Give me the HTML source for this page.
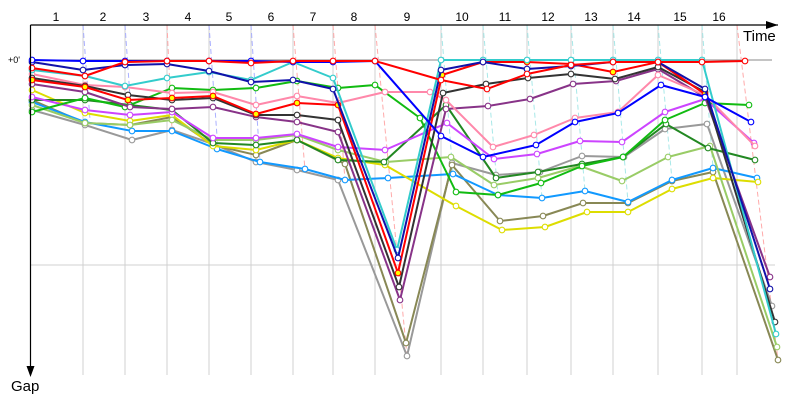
<!DOCTYPE html>
<html><head><meta charset="utf-8"><style>
html,body{margin:0;padding:0;background:#fff;}
svg{display:block;font-family:"Liberation Sans","DejaVu Sans",sans-serif;}
</style></head><body>
<svg width="800" height="400" viewBox="0 0 800 400" xmlns="http://www.w3.org/2000/svg">
<defs>
<marker id="mR" viewBox="0 0 10 10" refX="5" refY="5" markerWidth="7" markerHeight="7" markerUnits="userSpaceOnUse"><circle cx="5" cy="5" r="4" fill="#fff" stroke="#f00" stroke-width="1.6"/></marker>
<marker id="mRY" viewBox="0 0 10 10" refX="5" refY="5" markerWidth="7" markerHeight="7" markerUnits="userSpaceOnUse"><circle cx="5" cy="5" r="4" fill="#ff0" stroke="#f00" stroke-width="1.6"/></marker>
<marker id="mB" viewBox="0 0 10 10" refX="5" refY="5" markerWidth="7" markerHeight="7" markerUnits="userSpaceOnUse"><circle cx="5" cy="5" r="4" fill="#fff" stroke="#00f" stroke-width="1.6"/></marker>
<marker id="mN" viewBox="0 0 10 10" refX="5" refY="5" markerWidth="7" markerHeight="7" markerUnits="userSpaceOnUse"><circle cx="5" cy="5" r="4" fill="#fff" stroke="#11a" stroke-width="1.6"/></marker>
<marker id="mC" viewBox="0 0 10 10" refX="5" refY="5" markerWidth="7" markerHeight="7" markerUnits="userSpaceOnUse"><circle cx="5" cy="5" r="4" fill="#fff" stroke="#3cc" stroke-width="1.6"/></marker>
<marker id="mK" viewBox="0 0 10 10" refX="5" refY="5" markerWidth="7" markerHeight="7" markerUnits="userSpaceOnUse"><circle cx="5" cy="5" r="4" fill="#fff" stroke="#333" stroke-width="1.6"/></marker>
<marker id="mP" viewBox="0 0 10 10" refX="5" refY="5" markerWidth="7" markerHeight="7" markerUnits="userSpaceOnUse"><circle cx="5" cy="5" r="4" fill="#fff" stroke="#f8a" stroke-width="1.6"/></marker>
<marker id="mG" viewBox="0 0 10 10" refX="5" refY="5" markerWidth="7" markerHeight="7" markerUnits="userSpaceOnUse"><circle cx="5" cy="5" r="4" fill="#fff" stroke="#1b1" stroke-width="1.6"/></marker>
<marker id="mPu" viewBox="0 0 10 10" refX="5" refY="5" markerWidth="7" markerHeight="7" markerUnits="userSpaceOnUse"><circle cx="5" cy="5" r="4" fill="#fff" stroke="#838" stroke-width="1.6"/></marker>
<marker id="mM" viewBox="0 0 10 10" refX="5" refY="5" markerWidth="7" markerHeight="7" markerUnits="userSpaceOnUse"><circle cx="5" cy="5" r="4" fill="#fff" stroke="#c4f" stroke-width="1.6"/></marker>
<marker id="mDG" viewBox="0 0 10 10" refX="5" refY="5" markerWidth="7" markerHeight="7" markerUnits="userSpaceOnUse"><circle cx="5" cy="5" r="4" fill="#fff" stroke="#282" stroke-width="1.6"/></marker>
<marker id="mLG" viewBox="0 0 10 10" refX="5" refY="5" markerWidth="7" markerHeight="7" markerUnits="userSpaceOnUse"><circle cx="5" cy="5" r="4" fill="#fff" stroke="#9c6" stroke-width="1.6"/></marker>
<marker id="mY" viewBox="0 0 10 10" refX="5" refY="5" markerWidth="7" markerHeight="7" markerUnits="userSpaceOnUse"><circle cx="5" cy="5" r="4" fill="#fff" stroke="#dd0" stroke-width="1.6"/></marker>
<marker id="mO" viewBox="0 0 10 10" refX="5" refY="5" markerWidth="7" markerHeight="7" markerUnits="userSpaceOnUse"><circle cx="5" cy="5" r="4" fill="#fff" stroke="#885" stroke-width="1.6"/></marker>
<marker id="mGr" viewBox="0 0 10 10" refX="5" refY="5" markerWidth="7" markerHeight="7" markerUnits="userSpaceOnUse"><circle cx="5" cy="5" r="4" fill="#fff" stroke="#999" stroke-width="1.6"/></marker>
<marker id="mLB" viewBox="0 0 10 10" refX="5" refY="5" markerWidth="7" markerHeight="7" markerUnits="userSpaceOnUse"><circle cx="5" cy="5" r="4" fill="#fff" stroke="#19f" stroke-width="1.6"/></marker>
<marker id="arR" viewBox="0 0 12 8" refX="12" refY="4" markerWidth="12" markerHeight="8" markerUnits="userSpaceOnUse" orient="auto"><path d="M0,0 L12,4 L0,8 Z" fill="#000"/></marker>
</defs>

<!-- grid -->
<g stroke="#d0d0d0" stroke-width="1">
<line x1="83" y1="25" x2="83" y2="375"/><line x1="125" y1="25" x2="125" y2="375"/>
<line x1="167" y1="25" x2="167" y2="375"/><line x1="209" y1="25" x2="209" y2="375"/>
<line x1="251" y1="25" x2="251" y2="375"/><line x1="293" y1="25" x2="293" y2="375"/>
<line x1="333" y1="25" x2="333" y2="375"/><line x1="375" y1="25" x2="375" y2="375"/>
<line x1="441" y1="25" x2="441" y2="375"/><line x1="483" y1="25" x2="483" y2="375"/>
<line x1="527" y1="25" x2="527" y2="375"/><line x1="571" y1="25" x2="571" y2="375"/>
<line x1="613" y1="25" x2="613" y2="375"/><line x1="658" y1="25" x2="658" y2="375"/>
<line x1="702" y1="25" x2="702" y2="375"/><line x1="737" y1="25" x2="737" y2="375"/>
<line x1="31" y1="265" x2="775" y2="265"/>
</g>
<line x1="31" y1="60" x2="772" y2="60" stroke="#888" stroke-width="1"/>

<!-- dashed guides -->
<g fill="none" stroke-width="1" stroke-dasharray="5,3">
<g stroke="#aab0ff"><line x1="83" y1="25" x2="90" y2="120"/><line x1="125" y1="25" x2="133" y2="140"/><line x1="209" y1="25" x2="218" y2="150"/><line x1="251" y1="25" x2="260" y2="162"/></g>
<g stroke="#ffaaaa"><line x1="167" y1="25" x2="172" y2="130"/><line x1="293" y1="25" x2="305" y2="170"/><line x1="333" y1="25" x2="345" y2="180"/><line x1="375" y1="25" x2="407" y2="356"/><line x1="737" y1="25" x2="778" y2="360"/></g>
<g stroke="#a8e8e8"><line x1="441" y1="25" x2="453" y2="174"/><line x1="483" y1="25" x2="498" y2="195"/><line x1="527" y1="25" x2="542" y2="198"/><line x1="571" y1="25" x2="585" y2="191"/><line x1="613" y1="25" x2="628" y2="202"/><line x1="658" y1="25" x2="672" y2="180"/><line x1="702" y1="25" x2="713" y2="168"/></g>
</g>

<!-- series -->
<g fill="none" stroke-width="2" stroke-linejoin="round">
<polyline stroke="#999" marker-start="url(#mGr)" marker-mid="url(#mGr)" marker-end="url(#mGr)" points="32,110 85,125 132,140 172,130 213,144 256,162 297,170 338,180 407,356 452,163 496,175 540,172 582,156 624,157 665,129 707,124 772,306"/>
<polyline stroke="#885" marker-start="url(#mO)" marker-mid="url(#mO)" marker-end="url(#mO)" points="32,100 85,123 130,125 172,117 213,145 256,155 297,140 345,164 406,343 452,165 500,221 543,216 583,203 628,203 672,181 713,172 778,360"/>
<polyline stroke="#19f" marker-start="url(#mLB)" marker-mid="url(#mLB)" marker-end="url(#mLB)" points="32,102 85,122 132,131 172,131 217,149 260,162 305,169 345,180 388,178 453,174 498,195 542,198 585,191 628,202 672,180 713,168 757,178"/>
<polyline stroke="#dd0" marker-start="url(#mY)" marker-mid="url(#mY)" marker-end="url(#mY)" points="32,90 85,113 130,121 172,115 213,146 256,150 297,140 338,158 385,165 456,206 502,230 545,227 587,212 628,212 672,189 713,178 758,182"/>
<polyline stroke="#9c6" marker-start="url(#mLG)" marker-mid="url(#mLG)" marker-end="url(#mLG)" points="32,105 85,123 130,125 172,120 213,140 256,140 297,135 338,150 386,162 451,157 494,185 538,178 580,166 622,181 668,157 710,146 777,347"/>
<polyline stroke="#282" marker-start="url(#mDG)" marker-mid="url(#mDG)" marker-end="url(#mDG)" points="32,100 85,100 130,105 172,110 213,143 256,145 297,140 338,160 384,162 446,105 496,178 538,172 582,164 623,157 666,124 708,148 755,160"/>
<polyline stroke="#c4f" marker-start="url(#mM)" marker-mid="url(#mM)" marker-end="url(#mM)" points="32,97 85,110 130,115 172,112 213,138 256,138 297,134 338,147 385,150 447,123 494,159 537,154 580,141 622,142 665,112 705,99 754,143"/>
<polyline stroke="#1b1" marker-start="url(#mG)" marker-mid="url(#mG)" marker-end="url(#mG)" points="32,112 85,98 125,107 172,88 213,90 256,88 297,81 338,88 375,85 420,118 456,192 498,195 541,183 582,166 623,157 665,120 705,103 749,105"/>
<polyline stroke="#838" marker-start="url(#mPu)" marker-mid="url(#mPu)" marker-end="url(#mPu)" points="32,84 85,92 130,107 172,109 213,107 256,117 297,122 338,132 400,300 446,109 488,106 530,99 573,84 616,81 658,69 705,97 770,277"/>
<polyline stroke="#f8a" marker-start="url(#mP)" marker-mid="url(#mP)" marker-end="url(#mP)" points="32,74 85,85 125,87 172,93 213,92 256,105 297,96 338,103 385,92 430,92 446,100 493,147 534,135 575,118 618,112 658,75 705,95 755,146"/>
<polyline stroke="#333" marker-start="url(#mK)" marker-mid="url(#mK)" marker-end="url(#mK)" points="32,78 85,86 128,95 172,100 213,98 256,115 297,115 338,120 399,287 443,93 486,84 528,78 571,74 615,79 658,67 705,92 775,322"/>
<polyline stroke="#f00" marker-start="url(#mRY)" marker-mid="url(#mRY)" marker-end="url(#mRY)" points="32,80 85,87 128,100 172,98 213,96 256,114 297,103 338,105 398,273 442,75 483,62 527,62 571,64 613,72 658,62 705,94"/>
<polyline stroke="#3cc" marker-start="url(#mC)" marker-mid="url(#mC)" marker-end="url(#mC)" points="32,70 85,76 125,86 167,78 209,72 251,80 293,62 333,78 397,250 441,60 483,60 527,60 571,60 613,60 658,60 702,60 776,334"/>
<polyline stroke="#11a" marker-start="url(#mN)" marker-mid="url(#mN)" marker-end="url(#mN)" points="32,62 83,70 125,65 167,64 209,71 251,82 293,80 333,89 398,258 441,70 483,62 527,69 571,66 613,62 658,62 705,89 770,289"/>
<polyline stroke="#00f" marker-start="url(#mB)" marker-mid="url(#mB)" marker-end="url(#mB)" points="32,60 83,61 125,61 167,61 209,61 251,61 293,62 333,62 375,61 441,136 483,157 536,145 575,122 618,113 661,85 705,97 751,122"/>
<polyline stroke="#f00" marker-start="url(#mR)" marker-mid="url(#mR)" marker-end="url(#mR)" points="32,68 85,76 125,62 167,61 209,61 251,63 293,61 333,61 375,61 441,80 487,89 527,74 571,65 613,62 658,62 702,62 745,61"/>
</g>

<!-- axes -->
<line x1="30.5" y1="25" x2="778" y2="25" stroke="#000" stroke-width="1.2" marker-end="url(#arR)"/>
<line x1="30.5" y1="25" x2="30.5" y2="366" stroke="#000" stroke-width="1.2"/>
<path d="M26.5,366 L34.5,366 L30.5,377 Z" fill="#000"/>

<g font-size="12" fill="#000" text-anchor="middle">
<text x="56" y="21">1</text><text x="103" y="21">2</text><text x="146" y="21">3</text><text x="188" y="21">4</text>
<text x="229" y="21">5</text><text x="271" y="21">6</text><text x="313" y="21">7</text><text x="354" y="21">8</text>
<text x="407" y="21">9</text><text x="462" y="21">10</text><text x="505" y="21">11</text><text x="548" y="21">12</text>
<text x="591" y="21">13</text><text x="634" y="21">14</text><text x="680" y="21">15</text><text x="719" y="21">16</text>
</g>
<text x="8" y="63" font-size="9" fill="#000">+0'</text>
<text x="743" y="41" font-size="15" fill="#000">Time</text>
<text x="11" y="391" font-size="15" fill="#000">Gap</text>
</svg>
</body></html>
